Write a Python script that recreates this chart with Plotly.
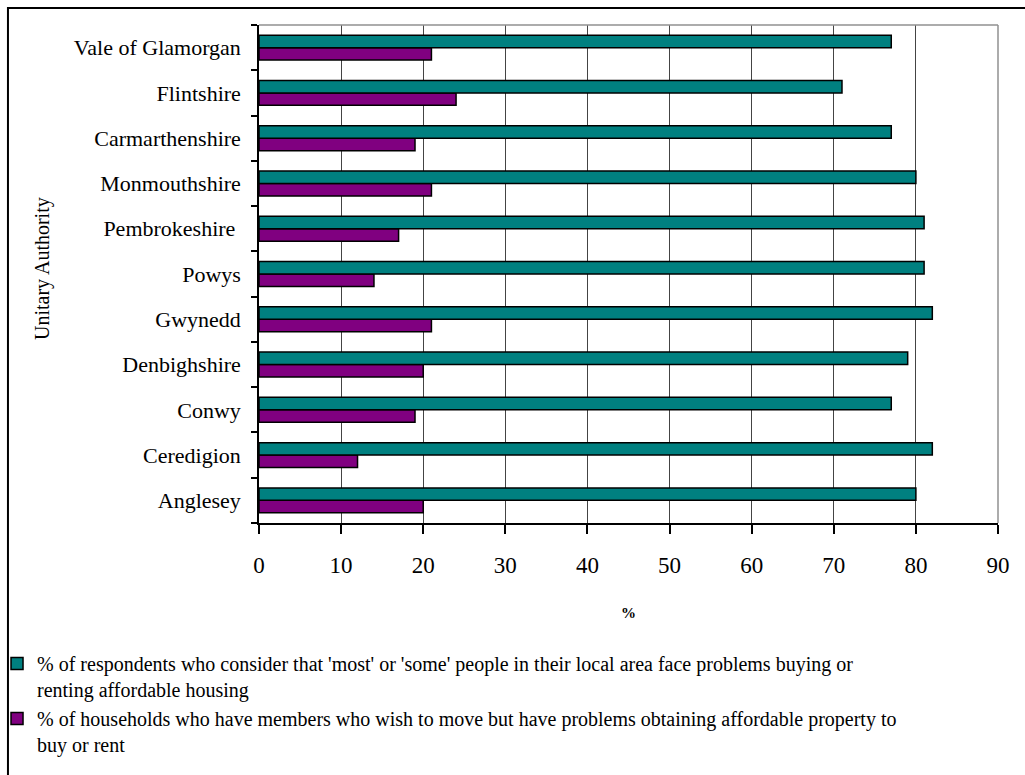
import plotly.graph_objects as go

# Unitary authorities, listed bottom to top as drawn on the category axis
authorities = [
    "Anglesey", "Ceredigion", "Conwy", "Denbighshire", "Gwynedd", "Powys",
    "Pembrokeshire\u00a0", "Monmouthshire", "Carmarthenshire", "Flintshire",
    "Vale of Glamorgan",
]

# % of respondents who say 'most' or 'some' local people face affordability problems
respondents_pct = [80, 82, 77, 79, 82, 81, 81, 80, 77, 71, 77]

# % of households with members wishing to move but unable to obtain affordable property
households_pct = [20, 12, 19, 20, 21, 14, 17, 21, 19, 24, 21]

x_ticks = [0, 10, 20, 30, 40, 50, 60, 70, 80, 90]

name_respondents = ("% of respondents who consider that 'most' or 'some' people in their "
                    "local area face problems buying or<br>renting affordable housing")
name_households = ("% of households who have members who wish to move but have problems "
                   "obtaining affordable property to<br>buy or rent")

TEAL = "#008080"
PURPLE = "#800080"
FONT = "Liberation Serif"

fig = go.Figure()
# Households first so it sits below the respondents bar in each group
fig.add_trace(go.Bar(
    y=authorities, x=households_pct, orientation="h", name=name_households,
    marker=dict(color=PURPLE, line=dict(color="black", width=1.5)),
    legendrank=2, legendgroup="b",
))
fig.add_trace(go.Bar(
    y=authorities, x=respondents_pct, orientation="h", name=name_respondents,
    marker=dict(color=TEAL, line=dict(color="black", width=1.5)),
    legendrank=1, legendgroup="a",
))

fig.update_layout(
    width=1025, height=775,
    margin=dict(l=259, r=27, t=25, b=252, autoexpand=False),
    paper_bgcolor="white", plot_bgcolor="white",
    font=dict(family=FONT, color="black"),
    barmode="group", bargap=0.45, bargroupgap=0,
    showlegend=True,
    legend=dict(
        x=-0.3545, xanchor="left", y=-0.243, yanchor="top",
        font=dict(family=FONT, size=20, color="black"),
        valign="top", tracegroupgap=0, itemwidth=30,
        bgcolor="rgba(0,0,0,0)",
    ),
    xaxis=dict(
        range=[0, 90], tickvals=x_ticks, ticktext=[str(v) for v in x_ticks],
        showgrid=True, gridcolor="#444444", gridwidth=1,
        showline=True, linecolor="black", linewidth=1.5, mirror=False,
        ticks="outside", ticklen=9, tickcolor="black", tickwidth=1.5,
        tickfont=dict(family=FONT, size=23),
        ticklabelstandoff=12,
        title=dict(text="<b>%</b>", font=dict(family=FONT, size=15), standoff=30),
        zeroline=False,
    ),
    yaxis=dict(
        type="category", categoryorder="array", categoryarray=authorities,
        tickson="boundaries", ticks="outside", ticklen=6,
        tickcolor="black", tickwidth=1.5,
        showline=True, linecolor="black", linewidth=1.5,
        showgrid=False,
        tickfont=dict(family=FONT, size=22),
        ticklabelstandoff=12,
    ),
    shapes=[
        # gray frame along the top and right of the plotting area
        dict(type="line", xref="paper", yref="paper", x0=0, x1=1, y0=1, y1=1,
             line=dict(color="#909090", width=1.5)),
        dict(type="line", xref="paper", yref="paper", x0=1, x1=1, y0=0, y1=1,
             line=dict(color="#909090", width=1.5)),
        # outer chart border
        dict(type="rect", xref="paper", yref="paper",
             x0=-0.3397, x1=1.2, y0=-0.6, y1=1.0341,
             line=dict(color="black", width=2), layer="below"),
    ],
    annotations=[
        dict(text="Unitary Authority", xref="paper", yref="paper",
             x=-0.2936, y=0.51, xanchor="center", yanchor="middle",
             textangle=-90, showarrow=False,
             font=dict(family=FONT, size=20, color="black")),
    ],
)

fig.write_html("out.html")
